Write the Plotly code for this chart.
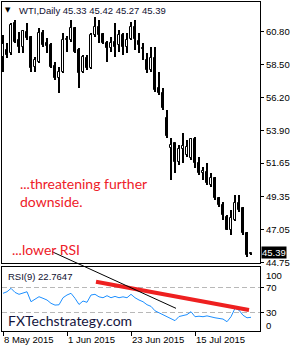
import plotly.graph_objects as go
import pandas as pd

# ---------------- data ----------------
dates = pd.bdate_range("2015-05-08", periods=63)
opens = [59.01, 59.50, 59.29, 61.37, 60.19, 59.71, 60.75, 60.40, 58.32, 58.66,
         60.68, 59.98, 59.84, 58.39, 57.55, 57.97, 60.19, 60.19, 61.02, 59.50,
         57.97, 58.94, 58.25, 60.54, 61.09, 60.61, 59.98, 59.64, 60.05, 59.84,
         60.54, 59.71, 60.26, 61.09, 60.12, 59.64, 58.80, 58.11, 58.94, 56.86,
         56.51, 54.78, 52.70, 53.04, 51.72, 52.63, 52.21, 52.00, 53.32, 51.65,
         50.96, 51.03, 50.13, 50.61, 49.23, 48.74, 47.91, 47.01, 47.70, 48.88,
         48.53, 46.80, 45.33]
highs = [60.54, 59.98, 61.37, 61.58, 60.75, 60.88, 61.37, 60.45, 59.01, 61.02,
         60.88, 60.33, 59.98, 58.66, 58.32, 60.68, 60.47, 61.58, 61.09, 59.64,
         59.15, 59.15, 60.68, 61.79, 61.58, 60.68, 60.12, 60.40, 61.37, 60.88,
         60.68, 60.68, 61.44, 61.58, 60.68, 59.98, 59.29, 59.71, 59.71, 57.97,
         56.86, 55.33, 53.39, 53.08, 52.90, 53.74, 53.25, 53.39, 53.46, 52.07,
         51.38, 51.65, 50.96, 50.68, 49.30, 48.95, 48.05, 48.39, 49.43, 49.43,
         48.60, 46.87, 45.42]
lows = [57.97, 58.94, 59.15, 59.98, 59.29, 59.29, 60.19, 57.97, 57.97, 58.59,
        59.71, 59.29, 58.25, 57.41, 56.51, 57.90, 59.36, 60.05, 59.29, 56.86,
        57.90, 58.11, 58.20, 60.40, 59.98, 59.91, 58.66, 59.36, 59.01, 59.36,
        59.15, 59.29, 60.19, 59.50, 59.29, 58.80, 57.90, 57.97, 56.58, 56.37,
        55.33, 53.39, 50.48, 50.96, 51.52, 51.65, 52.07, 51.86, 51.31, 50.82,
        50.48, 50.13, 49.99, 49.09, 48.60, 47.70, 46.98, 46.66, 47.65, 48.25,
        46.66, 45.13, 45.27]
closes = [59.91, 59.15, 61.23, 60.05, 59.71, 60.82, 60.33, 58.25, 58.80, 60.68,
          59.84, 59.77, 58.32, 57.55, 57.97, 60.19, 60.26, 61.02, 59.36, 57.90,
          59.01, 58.25, 60.54, 61.09, 60.54, 59.98, 59.64, 59.98, 59.71, 60.54,
          59.71, 60.19, 61.09, 60.26, 59.84, 59.60, 58.11, 58.94, 56.72, 56.51,
          55.47, 53.53, 52.90, 51.72, 52.63, 52.83, 52.77, 53.32, 51.65, 50.96,
          51.10, 50.27, 50.61, 49.23, 48.74, 48.05, 47.01, 47.84, 48.88, 48.39,
          46.80, 45.27, 45.39]
rsi = [60.6, 63, 68.4, 62, 59, 60.6, 63, 47.3, 51.6, 55.2,
       52.7, 50, 44.8, 42, 42.5, 53.6, 57.9, 60.6, 52.7, 43,
       48.4, 46.4, 57.9, 59, 55, 53.6, 56.8, 53.6, 55.7, 53.6,
       55, 53.6, 59, 53.6, 50, 47.3, 42.6, 40, 33, 30,
       27.5, 23.5, 21.5, 17.5, 24, 26, 27, 31.6, 23.7, 24.5,
       23.7, 25, 23, 22, 21, 20, 15.8, 23.7, 37, 34,
       26, 22, 22.7647]
price_ticks = [60.80, 58.50, 56.20, 53.90, 51.65, 49.35, 47.05, 44.75]
rsi_levels = [70, 30]
date_tick_idx = [0, 16, 32, 48]
# trend lines drawn on the chart (bar index, value)
rsi_trend_x = [23.25, 61.5]
rsi_trend_y = [78.8, 34.3]
black_trend_x = [12.25, 43.25]
black_trend_start_price = 45.50
black_trend_end_rsi = 36.9

# ---------------- layout constants ----------------
W_FIG, H_FIG = 300, 350
ML, MR, MT, MB = 2, 40, 2, 19
PW, PH = W_FIG - ML - MR, H_FIG - MT - MB
main_dom = [(MT + PH - 262.5) / PH, 1.0]
rsi_dom = [0.0, (MT + PH - 267) / PH]
y_range = [44.75, 62.84]
y2_range = [1.2, 102]
x_range = [-0.25, 64.25]


def px(xp, yp):
    return (xp - ML) / PW, (MT + PH - yp) / PH


def to_paper(v, rng, dom):
    return dom[0] + (v - rng[0]) / (rng[1] - rng[0]) * (dom[1] - dom[0])


idx = list(range(len(opens)))
up = [c >= o for o, c in zip(opens, closes)]
body_base = [min(o, c) for o, c in zip(opens, closes)]
body_h = [max(abs(c - o), 0.03) for o, c in zip(opens, closes)]

fig = go.Figure()
# wicks
fig.add_trace(go.Bar(x=idx, y=[h - l for h, l in zip(highs, lows)], base=lows,
                     width=0.25, marker=dict(color="black", line=dict(width=0)),
                     xaxis="x", yaxis="y", hoverinfo="skip"))
# bodies
fig.add_trace(go.Bar(x=idx, y=body_h, base=body_base, width=0.5,
                     marker=dict(color=["white" if u else "black" for u in up],
                                 line=dict(color="black", width=1)),
                     xaxis="x", yaxis="y", hoverinfo="skip"))
# RSI
fig.add_trace(go.Scatter(x=idx, y=rsi, mode="lines",
                         line=dict(color="#1e90ff", width=1),
                         xaxis="x2", yaxis="y2", hoverinfo="skip"))
fig.add_trace(go.Scatter(x=rsi_trend_x, y=rsi_trend_y, mode="lines",
                         line=dict(color="#ee2020", width=4),
                         xaxis="x2", yaxis="y2", hoverinfo="skip"))

# black trend line crossing both panels
fig.add_shape(type="line", xref="x", yref="paper",
              x0=black_trend_x[0], x1=black_trend_x[1],
              y0=to_paper(black_trend_start_price, y_range, main_dom),
              y1=to_paper(black_trend_end_rsi, y2_range, rsi_dom),
              line=dict(color="black", width=1))

AX = dict(showgrid=False, zeroline=False, showline=True, mirror=True,
          linecolor="black", linewidth=1, automargin=False)
TF = dict(family="Liberation Sans", size=9.5, color="black")

fig.update_layout(
    template="none",
    width=W_FIG, height=H_FIG,
    margin=dict(l=ML, r=MR, t=MT, b=MB, pad=0),
    paper_bgcolor="white", plot_bgcolor="white",
    showlegend=False, barmode="overlay", bargap=0,
    font=dict(family="Liberation Sans", size=10, color="black"),
    xaxis=dict(AX, domain=[0, 1], range=x_range, anchor="y",
               showticklabels=False, ticks=""),
    yaxis=dict(AX, domain=main_dom, range=y_range, side="right",
               tickvals=price_ticks, ticktext=[f"{v:.2f}" for v in price_ticks],
               ticks="outside", ticklen=3, tickcolor="black", tickfont=TF),
    xaxis2=dict(AX, domain=[0, 1], range=x_range, anchor="y2",
                tickvals=date_tick_idx,
                ticktext=[f"{dates[i].day} {dates[i].strftime('%b %Y')}" for i in date_tick_idx],
                ticks="outside", ticklen=4, tickcolor="black",
                ticklabelposition="outside right", tickfont=TF),
    yaxis2=dict(AX, domain=rsi_dom, range=y2_range, side="right",
                tickvals=rsi_levels, ticktext=[str(v) for v in rsi_levels],
                ticks="outside", ticklen=3, tickcolor="black", tickfont=TF,
                showgrid=True, gridcolor="#b8b8b8", griddash="5px,3px", gridwidth=1),
)

ann = []


def add_text(text, xp, yp, size, color, family="Liberation Sans", xanchor="left",
             yanchor="middle", **kw):
    x, y = px(xp, yp)
    ann.append(dict(text=text, x=x, y=y, xref="paper", yref="paper", showarrow=False,
                    xanchor=xanchor, yanchor=yanchor, align="left",
                    font=dict(family=family, size=size, color=color), **kw))


add_text("▼", 8, 10, 7, "black", family="DejaVu Sans", xanchor="center")
add_text(f"WTI,Daily {opens[-1]:.2f} {highs[-1]:.2f} {lows[-1]:.2f} {closes[-1]:.2f}",
         17, 10, 9.5, "#101030")
add_text("...threatening further<br>downside.", 18, 173, 14, "#ee2028",
         family="Lato", yanchor="top")
add_text("...lower RSI", 10, 249, 14, "#ee2028", family="Lato")
add_text(f"RSI(9) {rsi[-1]:.4f}", 6, 276.5, 9.5, "#101030")
add_text("FXTechstrategy.com", 6, 320, 14, "#14143c", family="Lato")
add_text("100", 264, 275, 9.5, "black")
add_text("0", 264, 325, 9.5, "black")
ann.append(dict(text=f"{closes[-1]:.2f}", x=1, y=closes[-1], xref="paper", yref="y",
                xanchor="left", yanchor="middle", xshift=1, yshift=1, showarrow=False,
                bgcolor="black", borderpad=0,
                font=dict(family="Liberation Sans", size=9.5, color="white")))
fig.update_layout(annotations=ann)

fig.write_html("out.html")
